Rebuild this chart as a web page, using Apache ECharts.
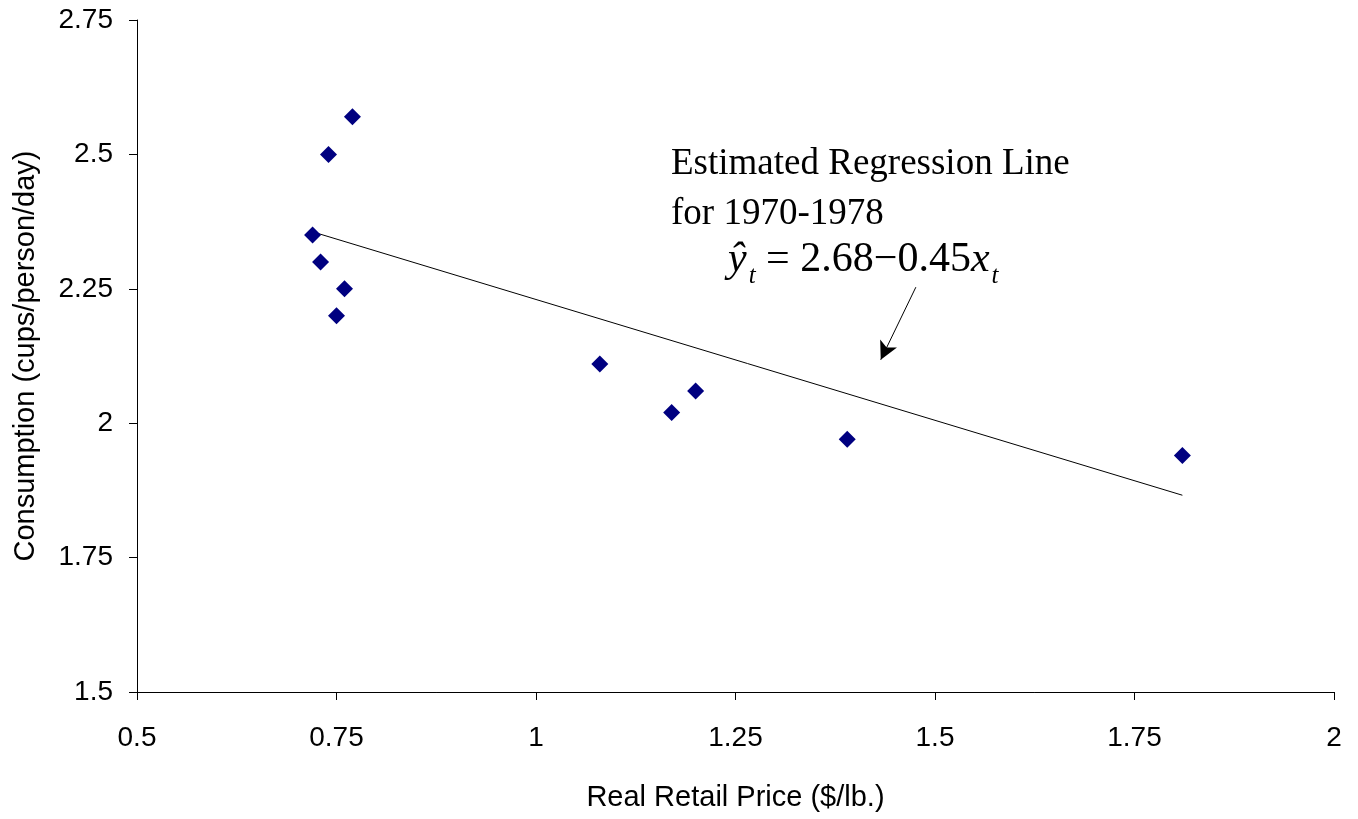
<!DOCTYPE html>
<html><head><meta charset="utf-8">
<script src="https://cdn.jsdelivr.net/npm/echarts@6/dist/echarts.min.js"></script>
<style>html,body{margin:0;padding:0;background:#fff}#c{width:1358px;height:819px}</style>
</head><body><div id="c"></div>
<script>
const priceX = [0.72, 0.74, 0.77, 0.73, 0.76, 0.75, 1.08, 1.17, 1.20, 1.39, 1.81];
const consumptionY = [2.35, 2.50, 2.57, 2.30, 2.25, 2.20, 2.11, 2.02, 2.06, 1.97, 1.94];
const regressionLine = [[0.72, 2.356], [1.81, 1.866]];
const arrowLine = [[1.476, 2.253], [1.432, 2.118]];
const xTicks = [0.5, 0.75, 1, 1.25, 1.5, 1.75, 2];
const yTicks = [1.5, 1.75, 2, 2.25, 2.5, 2.75];

const chart = echarts.init(document.getElementById('c'), null, {renderer: 'canvas'});
const fmt = v => String(+v.toFixed(2));
chart.setOption({
  animation: false,
  grid: {left: 137, right: 24, top: 20, bottom: 127, containLabel: false, outerBoundsMode: 'none'},
  xAxis: {
    type: 'value', min: xTicks[0], max: xTicks[xTicks.length - 1], interval: 0.25,
    name: 'Real Retail Price ($/lb.)', nameLocation: 'middle', nameGap: 91,
    nameTextStyle: {fontFamily: 'Liberation Sans', fontSize: 29, color: '#000'},
    axisLine: {lineStyle: {color: '#000', width: 1}},
    axisTick: {show: true, inside: false, length: 8, lineStyle: {color: '#000'}},
    axisLabel: {fontFamily: 'Liberation Sans', fontSize: 28, color: '#000', margin: 32, formatter: fmt},
    splitLine: {show: false}
  },
  yAxis: {
    type: 'value', min: yTicks[0], max: yTicks[yTicks.length - 1], interval: 0.25,
    name: 'Consumption (cups/person/day)', nameLocation: 'middle', nameGap: 97,
    nameTextStyle: {fontFamily: 'Liberation Sans', fontSize: 29, color: '#000'},
    axisLine: {show: true, lineStyle: {color: '#000', width: 1}},
    axisTick: {show: true, inside: false, length: 8, lineStyle: {color: '#000'}},
    axisLabel: {fontFamily: 'Liberation Sans', fontSize: 28, color: '#000', margin: 24, formatter: fmt},
    splitLine: {show: false}
  },
  series: [
    {
      type: 'scatter', symbol: 'diamond', symbolSize: 17,
      itemStyle: {color: '#000080', opacity: 1},
      data: priceX.map((x, i) => [x, consumptionY[i]]), z: 3
    },
    {
      type: 'line', data: regressionLine, symbol: 'none',
      lineStyle: {color: '#000', width: 1}, z: 2, silent: true
    },
    {
      type: 'line', data: [], silent: true,
      markLine: {
        silent: true, symbol: ['none', 'arrow'], symbolSize: [14, 18],
        label: {show: false},
        lineStyle: {color: '#000', width: 1, type: 'solid'},
        data: [[{coord: arrowLine[0]}, {coord: arrowLine[1]}]]
      }
    }
  ],
  graphic: [
    {type: 'text', left: 671, top: 146, style: {text: 'Estimated Regression Line', font: '37px "Liberation Serif"', fill: '#000'}},
    {type: 'text', left: 671, top: 196, style: {text: 'for 1970-1978', font: '37px "Liberation Serif"', fill: '#000'}},
    {type: 'text', left: 728, top: 239, style: {
      text: '{i|ŷ}{s|t}{n| = 2.68−0.45}{i|x}{s|t}',
      rich: {
        i: {fontFamily: 'Liberation Serif', fontStyle: 'italic', fontSize: 42, fill: '#000', verticalAlign: 'bottom'},
        n: {fontFamily: 'Liberation Serif', fontSize: 42, fill: '#000', verticalAlign: 'bottom'},
        s: {fontFamily: 'Liberation Serif', fontStyle: 'italic', fontSize: 25, fill: '#000', padding: [0, 0, -8, 2], verticalAlign: 'bottom'}
      }
    }}
  ]
});
</script></body></html>
